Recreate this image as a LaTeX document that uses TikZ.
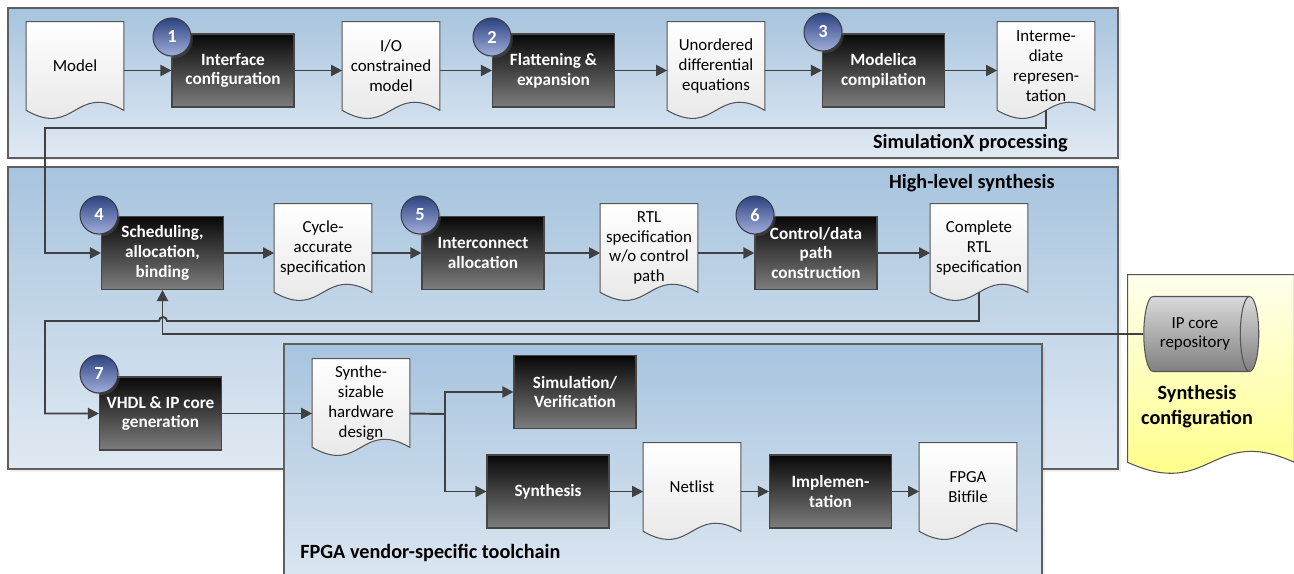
\documentclass[tikz,border=0pt]{standalone}
\usepackage{fontspec}
\setmainfont{Carlito}
\usetikzlibrary{calc,arrows.meta,shapes.geometric,shadows}
\definecolor{panelTop}{RGB}{167,196,222}
\definecolor{panelBot}{RGB}{224,233,243}
\definecolor{panelline}{RGB}{95,95,95}
\definecolor{boxTop}{RGB}{8,8,8}
\definecolor{boxBot}{RGB}{125,125,125}
\definecolor{boxline}{RGB}{70,70,70}
\definecolor{docBot}{RGB}{228,228,228}
\definecolor{docline}{RGB}{85,85,85}
\definecolor{ydocTop}{RGB}{255,255,238}
\definecolor{ydocBot}{RGB}{255,255,125}
\definecolor{numTop}{RGB}{44,66,128}
\definecolor{numBot}{RGB}{160,174,218}
\definecolor{numline}{RGB}{60,60,70}
\definecolor{cylTop}{RGB}{218,218,218}
\definecolor{cylBot}{RGB}{128,128,128}
\definecolor{flowc}{RGB}{64,64,64}

\pgfdeclarelayer{back}
\pgfdeclarelayer{mid}
\pgfsetlayers{back,mid,main}

% document outline with wavy bottom, drawn round a named node
\newcommand{\docshape}[3][docfill]{%
  \path[#1] (#2.north west) -- (#2.north east) -- (#2.south east)
    .. controls ($(#2.south)+(0,-#3)$) and ($(#2.south)+(0,#3)$) .. (#2.south west) -- cycle;}

\begin{document}
\begin{tikzpicture}[x=0.02cm,y=-0.02cm,
  font=\fontsize{9.6}{11.3}\selectfont,
  proc/.style={rectangle, draw=boxline, line width=0.6pt, top color=boxTop, bottom color=boxBot,
    text=white, font=\fontsize{9.8}{11.3}\selectfont\bfseries, align=center,
    minimum width=2.44cm, minimum height=1.46cm},
  doc/.style={rectangle, align=center, minimum width=1.94cm, minimum height=1.76cm, inner sep=1pt},
  docfill/.style={draw=docline, line width=0.6pt, top color=white, bottom color=docBot},
  ydocfill/.style={draw=docline, line width=0.6pt, top color=ydocTop, bottom color=ydocBot},
  num/.style={circle, draw=numline, line width=0.6pt, top color=numTop, bottom color=numBot,
    text=white, font=\fontsize{10.5}{12}\selectfont\bfseries, minimum size=0.76cm, inner sep=0pt,
    drop shadow={shadow xshift=0.04cm, shadow yshift=-0.04cm, opacity=0.25}},
  flow/.style={draw=flowc, line width=1.1pt, -{Triangle[length=0.22cm,width=0.22cm]}},
  panel/.style={draw=panelline, line width=0.6pt, top color=panelTop, bottom color=panelBot,
    drop shadow={shadow xshift=0.05cm, shadow yshift=-0.05cm, opacity=0.12}},
  title/.style={font=\fontsize{11.5}{13}\selectfont\bfseries, inner sep=0pt},
  cyl/.style={cylinder, shape aspect=0.5, draw=docline, line width=0.6pt, top color=cylTop,
    bottom color=cylBot, align=center, minimum width=1.5cm, minimum height=2.3cm, inner sep=1pt}]
\useasboundingbox (0,0) rectangle (1294,574);

% Panels
\begin{pgfonlayer}{back}
\path[panel] (8,8) rectangle (1118,158);
\path[panel] (8,167) rectangle (1118,469);
\path[panel] (284,344) rectangle (1042,600);
\end{pgfonlayer}
\node[title, anchor=east] (simtitle) at (1068,143) {SimulationX processing};
\node[title, anchor=east] (hlstitle) at (1055,183) {High-level synthesis};
\node[title, anchor=west] (fpgatitle) at (300,553) {FPGA vendor-specific toolchain};

% SimulationX processing
\node[doc] (model) at (75,66) {Model};
\node[proc] (ifconf) at (233,70.5) {Interface\\configuration};
\node[doc] (iomodel) at (391,66) {I/O\\constrained\\model};
\node[proc] (flatten) at (553.5,70.5) {Flattening \&\\expansion};
\node[doc] (ude) at (716,66) {Unordered\\differential\\equations};
\node[proc] (modc) at (883.5,70.5) {Modelica\\compilation};
\node[doc] (irep) at (1046,66) {Interme-\\diate\\represen-\\tation};

% High-level synthesis
\node[proc] (sched) at (162.5,253) {Scheduling,\\allocation,\\binding};
\node[doc] (cycle) at (323,248) {Cycle-\\accurate\\specification};
\node[proc] (intercon) at (483,253) {Interconnect\\allocation};
\node[doc] (rtlwo) at (649,248) {RTL\\specification\\w/o control\\path};
\node[proc] (ctrlpath) at (816,253) {Control/data\\path\\construction};
\node[doc] (rtlfull) at (979,248) {Complete\\RTL\\specification};
\node[proc] (vhdl) at (160.5,413.5) {VHDL \& IP core\\generation};

% FPGA toolchain
\node[doc] (synthhw) at (361,403) {Synthe-\\sizable\\hardware\\design};
\node[proc] (simver) at (575,392) {Simulation/\\Verification};
\node[proc] (synth) at (548,491.5) {Synthesis};
\node[doc] (netlist) at (692,487) {Netlist};
\node[proc] (impl) at (830.5,491.5) {Implemen-\\tation};
\node[doc] (bitfile) at (968,487) {FPGA\\Bitfile};

% Synthesis configuration
\node[rectangle, minimum width=3.32cm, minimum height=3.74cm] (synconf) at (1211,368.5) {};
\node[cyl] (ipcore) at (1195,334) {IP core\\repository};
\node[font=\fontsize{11.5}{14.2}\selectfont\bfseries, align=center] (synlbl) at (1197,407) {Synthesis\\configuration};

% step numbers
\node[num] (n1) at (172,37) {1};
\node[num] (n2) at (492,37) {2};
\node[num] (n3) at (823,32) {3};
\node[num] (n4) at (99,215) {4};
\node[num] (n5) at (420,215) {5};
\node[num] (n6) at (755,215) {6};
\node[num] (n7) at (99,374) {7};

\begin{pgfonlayer}{mid}
\foreach \d in {model,iomodel,ude,irep,cycle,rtlwo,rtlfull,synthhw,netlist,bitfile}
  \docshape{\d}{28};
\docshape[ydocfill]{synconf}{38};
\end{pgfonlayer}

% Flow
\draw[flow] (model.east |- ifconf) -- (ifconf);
\draw[flow] (ifconf) -- (ifconf -| iomodel.west);
\draw[flow] (iomodel.east |- flatten) -- (flatten);
\draw[flow] (flatten) -- (flatten -| ude.west);
\draw[flow] (ude.east |- modc) -- (modc);
\draw[flow] (modc) -- (modc -| irep.west);

\coordinate (down1) at (45,128);
\draw[flow] (irep.south) |- (down1) |- (sched.west);

\draw[flow] (sched) -- (sched -| cycle.west);
\draw[flow] (cycle.east |- intercon) -- (intercon);
\draw[flow] (intercon) -- (intercon -| rtlwo.west);
\draw[flow] (rtlwo.east |- ctrlpath) -- (ctrlpath);
\draw[flow] (ctrlpath) -- (ctrlpath -| rtlfull.west);

\coordinate (hop) at (167,321);
\coordinate (down2) at (45,321);
\draw[flow] (rtlfull.south) |- (hop) arc[start angle=0, end angle=-180, radius=4]
  -- (down2) |- (vhdl.west);
\draw[flow] (ipcore.west) -| (sched.south);

\draw[flow] (vhdl) -- (vhdl -| synthhw.west);
\coordinate (fork) at (445,414);
\draw[flow] (synthhw.east |- vhdl) -- (fork) |- (simver.west);
\draw[flow] (fork) |- (synth.west);
\draw[flow] (synth) -- (synth -| netlist.west);
\draw[flow] (netlist.east |- impl) -- (impl);
\draw[flow] (impl) -- (impl -| bitfile.west);
\end{tikzpicture}
\end{document}
